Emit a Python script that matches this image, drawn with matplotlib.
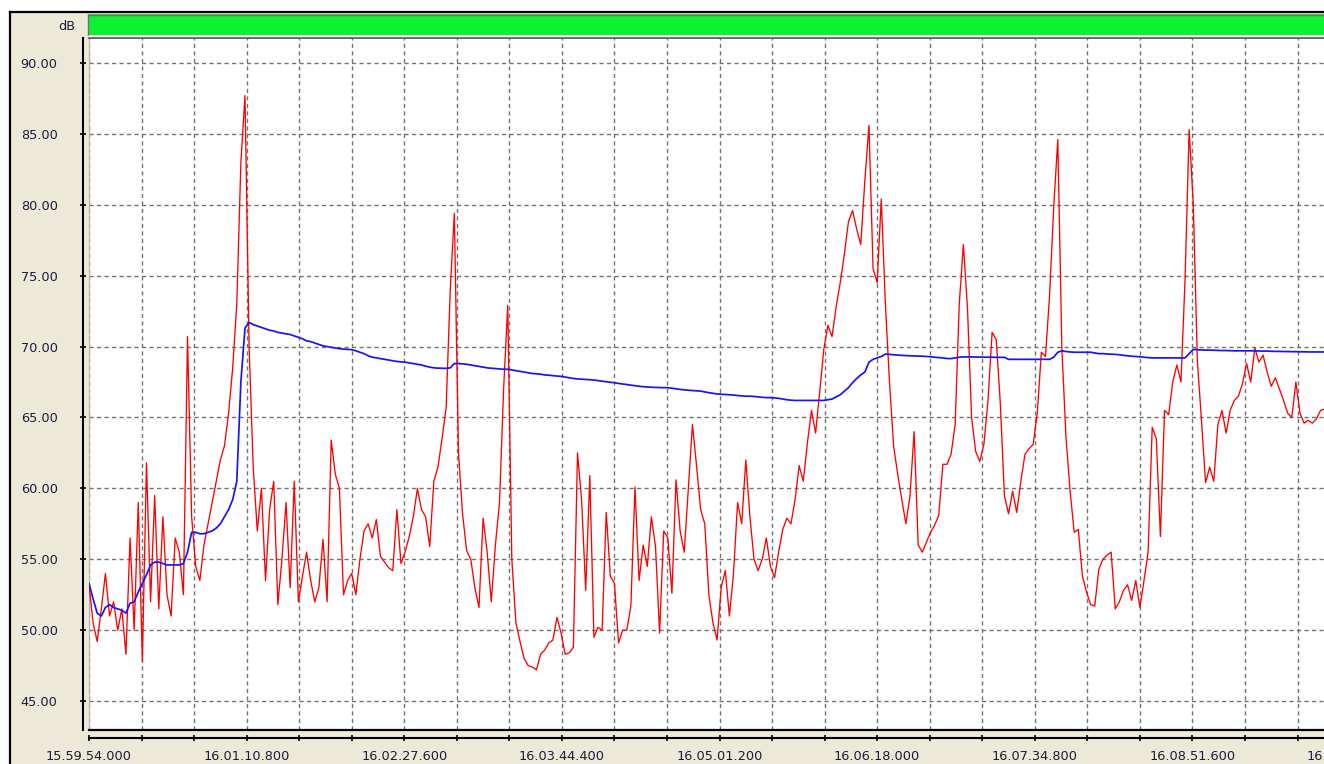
import numpy as np
import matplotlib.pyplot as plt
from matplotlib.lines import Line2D
from matplotlib.patches import Rectangle
from matplotlib import transforms

# --- data: one reading every 2 s, counted from 15.59.54.000 ---
sample_step_s = 2.0

# instantaneous level (red)
level_db = [
    53.2, 50.5, 49.2, 51.5, 54.0, 51.0, 52.0, 50.0, 51.5, 48.3,
    56.5, 50.0, 59.0, 47.8, 61.8, 52.0, 59.5, 51.5, 58.0, 52.5,
    51.0, 56.5, 55.5, 52.5, 70.7, 58.0, 54.5, 53.5, 56.0, 57.5,
    59.0, 60.5, 62.0, 63.0, 65.3, 68.5, 73.0, 83.0, 87.7, 70.0,
    61.5, 57.0, 60.0, 53.5, 58.5, 60.5, 51.8, 55.0, 59.0, 53.0,
    60.5, 52.0, 53.8, 55.5, 53.5, 52.0, 53.0, 56.4, 52.0, 63.4,
    61.0, 60.0, 52.5, 53.5, 54.0, 52.5, 55.0, 57.0, 57.5, 56.5,
    57.8, 55.2, 54.8, 54.4, 54.2, 58.5, 54.7, 55.5, 56.6, 58.0,
    60.0, 58.5, 58.0, 55.9, 60.5, 61.5, 63.5, 65.7, 74.0, 79.4,
    62.5, 58.2, 55.6, 55.0, 53.0, 51.6, 57.9, 55.5, 52.0, 56.0,
    59.0, 67.0, 72.9, 55.0, 50.5, 49.2, 48.0, 47.5, 47.4, 47.2,
    48.3, 48.6, 49.1, 49.3, 50.9, 49.8, 48.3, 48.4, 48.8, 62.5,
    59.2, 52.8, 60.9, 49.5, 50.2, 50.0, 58.3, 53.8, 53.3, 49.1,
    50.0, 50.0, 51.7, 60.1, 53.5, 56.0, 54.5, 58.0, 55.9, 49.8,
    57.0, 56.5, 52.6, 60.6, 57.0, 55.5, 60.0, 64.5, 61.6, 58.5,
    57.5, 52.5, 50.5, 49.3, 53.0, 54.2, 51.0, 54.0, 59.0, 57.5,
    62.0, 58.0, 55.0, 54.2, 55.0, 56.5, 54.5, 53.7, 55.5, 57.1,
    57.9, 57.5, 59.2, 61.6, 60.5, 63.2, 65.5, 63.9, 66.8, 69.8,
    71.5, 70.7, 72.8, 74.5, 76.5, 78.8, 79.6, 78.3, 77.2, 81.7,
    85.6, 75.5, 74.5, 80.4, 73.0, 67.5, 63.0, 61.0, 59.2, 57.5,
    59.5, 64.0, 56.0, 55.5, 56.2, 56.9, 57.4, 58.1, 61.7, 61.7,
    62.4, 64.5, 73.0, 77.2, 72.7, 65.0, 62.6, 61.9, 63.1, 66.2,
    71.0, 70.5, 66.0, 59.5, 58.2, 59.8, 58.3, 60.5, 62.4, 62.8,
    63.1, 65.3, 69.6, 69.3, 73.6, 79.8, 84.6, 69.8, 63.6, 59.8,
    56.9, 57.1, 53.8, 52.7, 51.8, 51.7, 54.3, 55.0, 55.3, 55.5,
    51.5, 52.0, 52.8, 53.2, 52.1, 53.5, 51.6, 53.5, 55.5, 64.3,
    63.5, 56.6, 65.5, 65.2, 67.5, 68.7, 67.5, 74.7, 85.3, 80.1,
    69.0, 64.8, 60.4, 61.5, 60.5, 64.5, 65.5, 63.9, 65.5, 66.2,
    66.5, 67.4, 68.8, 67.5, 69.9, 68.9, 69.4, 68.2, 67.2, 67.8,
    67.0, 66.2, 65.3, 65.0, 67.5, 65.3, 64.6, 64.8, 64.6, 64.9,
    65.5, 65.6,
]

# running Leq (blue)
leq_db = [
    53.3, 52.2, 51.2, 51.0, 51.6, 51.8, 51.6, 51.5, 51.4, 51.2,
    51.9, 52.0, 52.7, 53.3, 53.9, 54.6, 54.8, 54.8, 54.7, 54.6,
    54.6, 54.6, 54.6, 54.7, 55.5, 56.9, 56.9, 56.8, 56.8, 56.9,
    57.0, 57.2, 57.5, 58.0, 58.5, 59.2, 60.5, 67.5, 71.3, 71.7,
    71.55, 71.45, 71.35, 71.25, 71.15, 71.1, 71.0, 70.95, 70.9, 70.85,
    70.75, 70.65, 70.55, 70.4, 70.35, 70.25, 70.15, 70.05, 70.0, 69.95,
    69.9, 69.85, 69.82, 69.8, 69.78, 69.7, 69.6, 69.5, 69.35, 69.25,
    69.2, 69.15, 69.1, 69.05, 69.0, 68.95, 68.92, 68.9, 68.85, 68.8,
    68.75, 68.7, 68.62, 68.55, 68.5, 68.48, 68.47, 68.46, 68.5, 68.8,
    68.8, 68.78, 68.75, 68.7, 68.65, 68.6, 68.55, 68.5, 68.47, 68.45,
    68.42, 68.4, 68.4, 68.35, 68.3, 68.25, 68.2, 68.15, 68.1, 68.08,
    68.05, 68.0, 67.98, 67.95, 67.92, 67.9, 67.85, 67.8, 67.75, 67.72,
    67.7, 67.68, 67.66, 67.64, 67.6, 67.56, 67.52, 67.48, 67.45, 67.4,
    67.36, 67.32, 67.28, 67.24, 67.2, 67.17, 67.15, 67.13, 67.12, 67.11,
    67.1, 67.1, 67.06, 67.02, 66.98, 66.95, 66.92, 66.9, 66.88, 66.86,
    66.8, 66.75, 66.7, 66.66, 66.64, 66.62, 66.6, 66.58, 66.55, 66.52,
    66.5, 66.5, 66.48, 66.45, 66.42, 66.4, 66.4, 66.38, 66.35, 66.3,
    66.25, 66.22, 66.2, 66.2, 66.2, 66.2, 66.2, 66.2, 66.2, 66.2,
    66.25, 66.3, 66.45, 66.6, 66.85, 67.1, 67.45, 67.75, 68.0, 68.2,
    68.9, 69.1, 69.2, 69.3, 69.47, 69.45, 69.42, 69.4, 69.38, 69.36,
    69.35, 69.34, 69.33, 69.32, 69.3, 69.28, 69.25, 69.22, 69.2, 69.16,
    69.15, 69.2, 69.25, 69.27, 69.27, 69.27, 69.26, 69.26, 69.25, 69.25,
    69.25, 69.24, 69.24, 69.24, 69.1, 69.1, 69.1, 69.1, 69.1, 69.1,
    69.1, 69.1, 69.1, 69.1, 69.1, 69.25, 69.6, 69.7, 69.65, 69.62,
    69.6, 69.6, 69.6, 69.6, 69.6, 69.55, 69.5, 69.5, 69.48, 69.46,
    69.45, 69.42, 69.38, 69.35, 69.32, 69.3, 69.28, 69.25, 69.22, 69.2,
    69.2, 69.2, 69.2, 69.2, 69.2, 69.2, 69.2, 69.2, 69.5, 69.8,
    69.78, 69.76, 69.75, 69.75, 69.74, 69.73, 69.72, 69.72, 69.71, 69.7,
    69.7, 69.7, 69.7, 69.7, 69.7, 69.69, 69.68, 69.68, 69.67, 69.66,
    69.66, 69.65, 69.65, 69.64, 69.64, 69.63, 69.63, 69.62, 69.62, 69.62,
    69.62, 69.62,
]

seconds = np.arange(len(level_db)) * sample_step_s

grid_step_s = 25.6
y_ticks = [45, 50, 55, 60, 65, 70, 75, 80, 85, 90]
time_labels = ["15.59.54.000", "16.01.10.800", "16.02.27.600", "16.03.44.400",
               "16.05.01.200", "16.06.18.000", "16.07.34.800", "16.08.51.600",
               "16.10.08.400"]

# --- figure layout in screen pixels ---
W, H = 1324, 764
BG = '#ECE9D8'
TXT = '#1c1c3a'
FS = 9.3

def fx(px):
    return px / W

def fy(py):
    return 1 - py / H

fig = plt.figure(figsize=(W / 100, H / 100), dpi=100)
fig.patch.set_facecolor(BG)

# white strip outside the window frame + black frame
fig.add_artist(Rectangle((0, fy(12)), 1, 12 / H, transform=fig.transFigure,
                         fc='white', ec='none'))
fig.add_artist(Rectangle((0, 0), fx(10), 1, transform=fig.transFigure,
                         fc='white', ec='none'))
fig.add_artist(Line2D([fx(10), fx(10)], [0, fy(12)], transform=fig.transFigure,
                      color='black', lw=1.6))
fig.add_artist(Line2D([fx(10), 1], [fy(12), fy(12)], transform=fig.transFigure,
                      color='black', lw=1.6))

# green status bar
fig.add_artist(Rectangle((fx(88), fy(35)), fx(W - 88), 21 / H,
                         transform=fig.transFigure, fc='#0DF230', ec='none'))
fig.add_artist(Line2D([fx(88), 1], [fy(14.5), fy(14.5)], transform=fig.transFigure,
                      color='#707070', lw=1.0))
fig.add_artist(Line2D([fx(87.5), fx(87.5)], [fy(14.5), fy(35)], transform=fig.transFigure,
                      color='#707070', lw=1.0))
fig.add_artist(Line2D([fx(88), 1], [fy(35.5), fy(35.5)], transform=fig.transFigure,
                      color='white', lw=1.0))

fig.text(fx(75), fy(26), 'dB', ha='right', va='center', fontsize=FS, color=TXT)

# --- main plot ---
x_max = 601.7
y_lo, y_hi = 42.96, 91.76
ax = fig.add_axes([fx(89), fy(730), fx(W - 89), (730 - 38) / H])
ax.set_facecolor('white')
ax.set_xlim(0, x_max)
ax.set_ylim(y_lo, y_hi)

grid_x = np.arange(0, x_max, grid_step_s)
ax.set_xticks(grid_x)
ax.set_yticks(y_ticks)
ax.tick_params(length=0, labelbottom=False, labelleft=False)
ax.grid(True, color='#737373', linestyle=(0, (3.0, 2.4)), linewidth=1.0)
ax.set_axisbelow(True)

ax.plot(seconds, level_db, color='#ff0000', lw=0.95, zorder=3)
ax.plot(seconds, leq_db, color='#1414ff', lw=1.25, zorder=4)

ax.spines['right'].set_visible(False)
ax.spines['top'].set_color('#505050')
ax.spines['top'].set_linewidth(1.3)
ax.spines['bottom'].set_color('black')
ax.spines['bottom'].set_linewidth(1.6)
ax.spines['left'].set_color('#b0b0b0')
ax.spines['left'].set_linewidth(0.8)

# left value ruler
axl = fig.add_axes([fx(83), fy(730), 0.0001, (730 - 38) / H])
axl.set_ylim(y_lo, y_hi)
axl.set_yticks(y_ticks)
axl.set_yticklabels([f"{v:.2f}" for v in y_ticks])
axl.set_xticks([])
axl.patch.set_visible(False)
for s in ['top', 'right', 'bottom']:
    axl.spines[s].set_visible(False)
axl.spines['left'].set_linewidth(1.5)
axl.tick_params(axis='y', direction='inout', length=4.5, width=1.2,
                pad=16, labelsize=FS, labelcolor=TXT)

# bottom time ruler
axb = fig.add_axes([fx(89), fy(738), fx(W - 89), 0.0001])
axb.set_xlim(0, x_max)
axb.set_xticks(grid_x)
axb.set_yticks([])
axb.patch.set_visible(False)
for s in ['top', 'right', 'left']:
    axb.spines[s].set_visible(False)
axb.spines['bottom'].set_linewidth(1.5)
axb.tick_params(axis='x', direction='inout', length=5, width=1.2, labelbottom=False)

# time labels on every third grid line (the last one runs off the edge, as in the window)
lab_tr = transforms.blended_transform_factory(ax.transData, fig.transFigure)
for i, lab in enumerate(time_labels):
    ax.text(i * 3 * grid_step_s, fy(756), lab, transform=lab_tr, ha='center',
            va='center', fontsize=FS, color=TXT, clip_on=False)

fig.savefig('out.png', dpi=100, facecolor=BG)
